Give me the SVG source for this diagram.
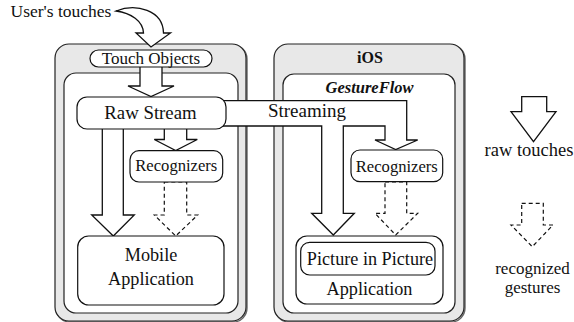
<svg xmlns="http://www.w3.org/2000/svg" width="574" height="322" viewBox="0 0 574 322" font-family="'Liberation Serif', 'DejaVu Serif', serif">
<defs>
<style>
text{font-family:'Liberation Serif','DejaVu Serif',serif;fill:#111;text-anchor:middle}
.outer{fill:#e8e8e8;stroke:#222;stroke-width:1.2}
.shadow{fill:none;stroke:#666;stroke-width:1.4}
.inner{fill:#fff;stroke:#222;stroke-width:1.2}
.box{fill:#fff;stroke:#111;stroke-width:1.2}
.arrow{fill:#fff;stroke:#111;stroke-width:1.3;stroke-linejoin:miter}
.dash{fill:#fff;stroke:#111;stroke-width:1.2;stroke-dasharray:4 3}
</style>
</defs>

<g id="left-container">
<rect class="shadow" x="56" y="45" width="191" height="277" rx="14"/>
<rect class="outer" x="55" y="44" width="191" height="277" rx="14"/>
<rect class="inner" x="64" y="73" width="174" height="240" rx="12"/>
</g>

<g id="ios-container">
<rect class="shadow" x="275" y="45" width="190" height="277" rx="14"/>
<rect class="outer" x="274" y="44" width="190" height="277" rx="14"/>
<rect class="inner" x="283" y="74" width="172" height="239" rx="11"/>
<text x="370" y="63" font-size="16" font-weight="bold">iOS</text>
<text x="369.5" y="93" font-size="16.5" font-weight="bold" font-style="italic">GestureFlow</text>
</g>

<g id="connectors">
<path class="arrow" d="M116,11 C136,3 163,10 163.5,33 L170.5,33 L151,47 L136,33 L143.5,33 C143,21 131,13 116,11 Z"/>
<path class="arrow" d="M140,66 L162,66 L162,86 L174,86 L151,96.5 L128,86 L140,86 Z"/>
<path class="arrow" d="M102.3,128 L123.3,128 L123.3,215 L134.3,215 L113.3,236 L91.7,215 L102.3,215 Z"/>
<path class="arrow" d="M164.3,128 L186.7,128 L186.7,139.5 L197.3,139.5 L175.7,150.5 L154.3,139.5 L164.3,139.5 Z"/>
<path class="dash" d="M164.3,182 L186.7,182 L186.7,215 L197.7,215 L175.7,236 L154.3,215 L164.3,215 Z"/>
<path class="arrow" d="M215,100.7 L406.7,100.7 L406.7,140 L417.7,140 L395.7,149.5 L375,140 L385,140 L385,126 L343.3,126 L343.3,213.3 L354.3,213.3 L333.3,235 L311.7,213.3 L321.7,213.3 L321.7,126 L215,126 Z"/>
<path class="dash" d="M385,182 L406.7,182 L406.7,213.3 L417.7,213.3 L395.7,235 L375,213.3 L385,213.3 Z"/>
<text x="307" y="117" font-size="19">Streaming</text>
</g>

<g id="users-touches">
<text x="61" y="17" font-size="17.5">User's touches</text>
</g>

<g id="touch-objects">
<rect class="box" x="90" y="50" width="122" height="17" rx="8.5"/>
<text x="151" y="64" font-size="17">Touch Objects</text>
</g>

<g id="raw-stream">
<rect class="box" x="77" y="97" width="149" height="32" rx="10"/>
<text x="150.5" y="119" font-size="18.8">Raw Stream</text>
</g>

<g id="recognizers-left">
<rect class="box" x="130" y="150.7" width="92.7" height="31.3" rx="9"/>
<text x="176.3" y="171" font-size="16.6">Recognizers</text>
</g>

<g id="mobile-application">
<rect class="box" x="77.7" y="236" width="146.3" height="69" rx="11"/>
<text x="151" y="261" font-size="18.2">Mobile</text>
<text x="151" y="284.5" font-size="18.2">Application</text>
</g>

<g id="recognizers-right">
<rect class="box" x="351" y="150" width="91.7" height="31.7" rx="9"/>
<text x="396.8" y="171.5" font-size="16.6">Recognizers</text>
</g>

<g id="pip-application">
<rect class="box" x="296" y="236" width="147" height="68" rx="11"/>
<rect class="box" x="300.7" y="242.3" width="134.3" height="32.7" rx="9"/>
<text x="370" y="265" font-size="18.2">Picture in Picture</text>
<text x="369.5" y="295" font-size="18.2">Application</text>
</g>

<g id="legend-raw">
<path class="arrow" d="M521.7,96.7 L546.7,96.7 L546.7,111.7 L556,111.7 L533.5,141.7 L511,111.7 L521.7,111.7 Z"/>
<text x="529" y="156" font-size="18.5">raw touches</text>
</g>

<g id="legend-recognized">
<path class="dash" d="M521.7,203.3 L543.3,203.3 L543.3,225 L553,225 L532.3,246.7 L511,225 L521.7,225 Z"/>
<text x="532.5" y="273.5" font-size="17">recognized</text>
<text x="532.5" y="292.5" font-size="17">gestures</text>
</g>
</svg>
